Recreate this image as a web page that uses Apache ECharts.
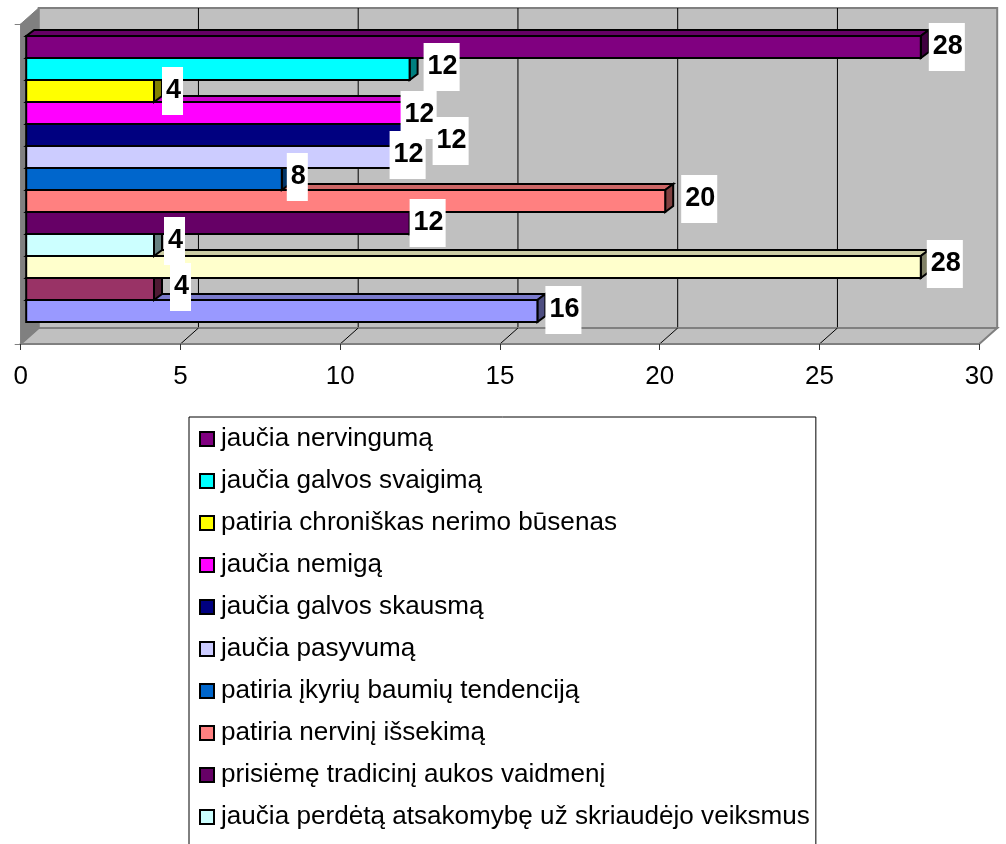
<!DOCTYPE html>
<html>
<head>
<meta charset="utf-8">
<style>
  html, body { margin: 0; padding: 0; background: #fff; overflow: hidden; }
  #chart { width: 1006px; height: 844px; }
</style>
<script src="https://cdn.jsdelivr.net/npm/echarts@6/dist/echarts.min.js"></script>
</head>
<body>
<div id="chart"></div>
<script>
const legendNames = [
  'jaučia nervingumą',
  'jaučia galvos svaigimą',
  'patiria chroniškas nerimo būsenas',
  'jaučia nemigą',
  'jaučia galvos skausmą',
  'jaučia pasyvumą',
  'patiria įkyrių baumių tendenciją',
  'patiria nervinį išsekimą',
  'prisiėmę tradicinį aukos vaidmenį',
  'jaučia perdėtą atsakomybę už skriaudėjo veiksmus'
];
// the last three bars have their legend rows cut off by the picture
const hiddenNames = ['eilutė 11', 'eilutė 12', 'eilutė 13'];
const values = [28, 12, 4, 12, 12, 12, 8, 20, 12, 4, 28, 4, 16];
const colors = ['#800080', '#00FFFF', '#FFFF00', '#FF00FF', '#000080', '#CCCCFF', '#0066CC',
  '#FF8080', '#660066', '#CCFFFF', '#FFFFCC', '#993366', '#9999FF'];
const ticks = [0, 5, 10, 15, 20, 25, 30];

// the data labels were dragged around by hand in the original: [dx from bar end, dy from bar middle]
const labelNudge = [[8, 0], [14, -2], [8, 0], [-9, 2], [23, 6], [-20, -2], [5, -2],
  [16, -2], [0, 0], [10, -4], [6, -3], [16, -2], [8, -1]];

// fake 3D: how far the back wall sits from the front plane, and the bars' own depth
const WALL_DX = 18;
const WALL_DY = -16;
const BAR_DX = 5.5;
const BAR_DY = -5;
const BAR_DEPTH_X = 8;
const BAR_DEPTH_Y = -6;
const BAR_H = 22;

const seriesNames = legendNames.concat(hiddenNames);

function shade(hex, k) {
  const n = parseInt(hex.slice(1), 16);
  const c = [n >> 16, (n >> 8) & 255, n & 255].map((v) => Math.round(v * k));
  return `rgb(${c[0]},${c[1]},${c[2]})`;
}

function poly(points, fill, stroke, width) {
  return {
    type: 'polygon',
    shape: { points },
    style: { fill, stroke: stroke || 'none', lineWidth: width || 0 }
  };
}

function renderPanels(params, api) {
  const [x0, yMid] = api.coord([ticks[0], 0]);
  const x1 = api.coord([ticks[ticks.length - 1], 0])[0];
  const h = api.size([0, 1])[1];
  const top = yMid - h / 2;
  const yBottom = yMid + h / 2;
  const dx = WALL_DX;
  const dy = WALL_DY;
  return {
    type: 'group',
    children: [
      poly([[x0 + dx, top + dy], [x1 + dx, top + dy], [x1 + dx, yBottom + dy], [x0 + dx, yBottom + dy]],
        '#C0C0C0', '#808080', 2),
      poly([[x0, yBottom], [x1, yBottom], [x1 + dx, yBottom + dy], [x0 + dx, yBottom + dy]],
        '#C0C0C0', '#808080', 2),
      poly([[x0, top], [x0 + dx, top + dy], [x0 + dx, yBottom + dy], [x0, yBottom]],
        '#808080', '#808080', 1)
    ]
  };
}

function renderGridLine(params, api) {
  const v = api.value(0);
  const [x, yMid] = api.coord([v, 0]);
  const h = api.size([0, 1])[1];
  const yBottom = yMid + h / 2;
  if (v === ticks[0] || v === ticks[ticks.length - 1]) return null;
  const line = (x1, y1, x2, y2) => ({
    type: 'line',
    shape: { x1, y1, x2, y2 },
    style: { stroke: '#000', lineWidth: 1 }
  });
  return {
    type: 'group',
    children: [
      line(x + WALL_DX, yBottom - h + WALL_DY, x + WALL_DX, yBottom + WALL_DY - 1),
      line(x, yBottom, x + WALL_DX, yBottom + WALL_DY)
    ]
  };
}

function barGeometry(api, v, i) {
  const [x0, yMid] = api.coord([0, 0]);
  const xEnd = api.coord([v, 0])[0];
  const top = yMid + BAR_DY + (i - values.length / 2) * BAR_H;
  return { left: x0 + BAR_DX, right: xEnd + BAR_DX, top, bottom: top + BAR_H };
}

function makeBarRenderer(i) {
  return function (params, api) {
    const { left, right, top, bottom } = barGeometry(api, api.value(0), i);
    const c = colors[i];
    const ddx = BAR_DEPTH_X;
    const ddy = BAR_DEPTH_Y;
    return {
      type: 'group',
      children: [
        poly([[left, top], [left + ddx, top + ddy], [right + ddx, top + ddy], [right, top]],
          shade(c, 0.8), '#000', 2),
        poly([[right, top], [right + ddx, top + ddy], [right + ddx, bottom + ddy], [right, bottom]],
          shade(c, 0.5), '#000', 2),
        poly([[left, top], [right, top], [right, bottom], [left, bottom]], c, '#000', 2)
      ]
    };
  };
}

function renderLabel(params, api) {
  const i = params.dataIndex;
  const v = api.value(0);
  const { right, top } = barGeometry(api, v, i);
  return {
    type: 'text',
    style: {
      text: String(v),
      x: right + labelNudge[i][0],
      y: top + BAR_H / 2 + labelNudge[i][1],
      align: 'left',
      verticalAlign: 'middle',
      font: 'bold 27px "Liberation Sans", Arial, sans-serif',
      fill: '#000',
      backgroundColor: '#fff',
      padding: [11, 2, 10, 4]
    }
  };
}

const barSeries = values.map((v, i) => ({
  name: seriesNames[i],
  type: 'custom',
  coordinateSystem: 'cartesian2d',
  // drawn bottom bar first so that each top face slides under the bar above it
  z: 3 + values.length - i,
  itemStyle: { color: colors[i] },
  encode: { x: 0, y: 1 },
  renderItem: makeBarRenderer(i),
  data: [[v, 0]],
  silent: true
}));

const chart = echarts.init(document.getElementById('chart'), null, { renderer: 'canvas' });
chart.setOption({
  animation: false,
  backgroundColor: '#fff',
  textStyle: { fontFamily: '"Liberation Sans", Arial, sans-serif' },
  grid: { left: 20.7, top: 24, width: 958.5, height: 320 },
  xAxis: {
    type: 'value',
    min: 0,
    max: 30,
    interval: 5,
    z: 30,
    splitLine: { show: false },
    axisLine: { show: true, lineStyle: { color: '#808080', width: 1.5 } },
    axisTick: { show: true, length: 6, lineStyle: { color: '#333' } },
    axisLabel: { fontSize: 26, color: '#000', margin: 20 }
  },
  yAxis: {
    type: 'category',
    data: [''],
    z: 30,
    axisLine: { show: true, lineStyle: { color: '#808080', width: 1.5 } },
    axisTick: { show: true, length: 6, lineStyle: { color: '#808080' } },
    axisLabel: { show: false }
  },
  legend: {
    orient: 'vertical',
    left: 189,
    top: 417,
    height: 480,
    selectedMode: false,
    data: legendNames,
    icon: 'rect',
    itemWidth: 14,
    itemHeight: 14,
    itemGap: 14,
    backgroundColor: '#fff',
    borderColor: '#000',
    borderWidth: 1,
    padding: [8, 6, 60, 10],
    itemStyle: { borderColor: '#000', borderWidth: 2 },
    textStyle: { fontSize: 26.1, lineHeight: 28, color: '#000', padding: [0, 0, 0, 2] }
  },
  series: [
    {
      type: 'custom',
      name: 'panels',
      z: 1,
      silent: true,
      renderItem: renderPanels,
      encode: { x: 0, y: 1 },
      data: [[0, 0]]
    },
    {
      type: 'custom',
      name: 'gridlines',
      z: 2,
      silent: true,
      renderItem: renderGridLine,
      encode: { x: 0, y: 1 },
      data: ticks.map((t) => [t, 0])
    },
    ...barSeries,
    {
      type: 'custom',
      name: 'labels',
      z: 40,
      silent: true,
      renderItem: renderLabel,
      encode: { x: 0, y: 1 },
      data: values.map((v) => [v, 0])
    }
  ]
});
</script>
</body>
</html>
